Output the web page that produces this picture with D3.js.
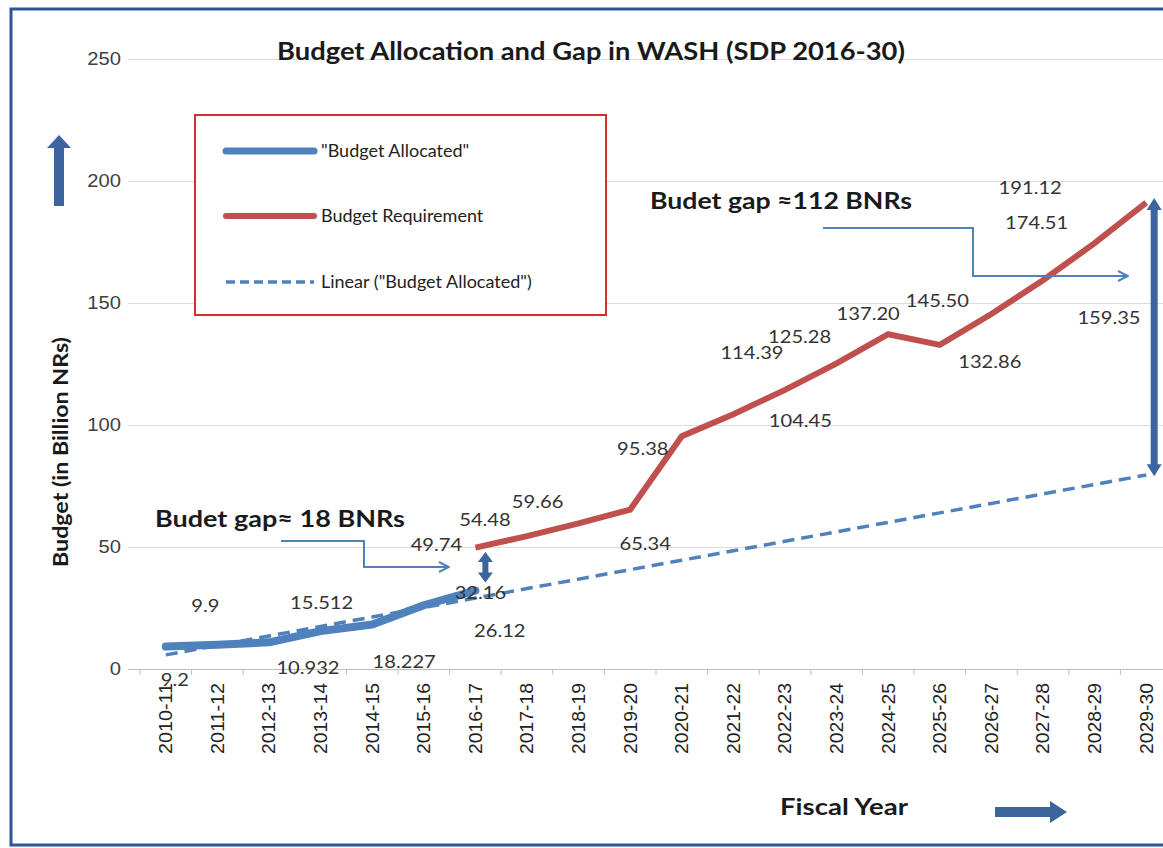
<!DOCTYPE html>
<html>
<head>
<meta charset="utf-8">
<script src="https://cdn.jsdelivr.net/npm/d3@7"></script>
<style>
  body { margin: 0; background: #fff; }
  svg { display: block; font-family: Lato, 'Open Sans', sans-serif; }
</style>
</head>
<body>
<div id="chart"></div>
<script>
// fiscal years on the x axis
const years = ['2010-11', '2011-12', '2012-13', '2013-14', '2014-15', '2015-16', '2016-17',
  '2017-18', '2018-19', '2019-20', '2020-21', '2021-22', '2022-23', '2023-24', '2024-25',
  '2025-26', '2026-27', '2027-28', '2028-29', '2029-30'];

// budget allocated, 2010-11 .. 2016-17 (billion NRs)
const allocated = [9.2, 9.9, 10.932, 15.512, 18.227, 26.12, 32.16];
const allocatedLabels = ['9.2', '9.9', '10.932', '15.512', '18.227', '26.12', '32.16'];

// budget requirement, 2016-17 .. 2029-30
const requirementStart = 6;
const requirement = [49.74, 54.48, 59.66, 65.34, 95.38, 104.45, 114.39, 125.28, 137.20,
  132.86, 145.50, 159.35, 174.51, 191.12];
const requirementLabels = ['49.74', '54.48', '59.66', '65.34', '95.38', '104.45', '114.39',
  '125.28', '137.20', '132.86', '145.50', '159.35', '174.51', '191.12'];

const yTicks = [0, 50, 100, 150, 200, 250];

// label nudges (px) so the numbers sit where Excel left them
const allocatedLabelOffsets = [[9, 34], [-12, -39], [39, 26], [1, -28], [32, 38], [76, 26], [5, 3]];
const requirementLabelOffsets = [[-39, -2], [-42, -16], [-41, -21], [15, 35], [-39, 13], [67, 7],
  [-33, -37], [-37, -26], [-20, -20], [50, 17], [-54, -13], [66, 38], [-58, -20], [-116, -14]];

const width = 1163;
const height = 848;
const blue = '#4f81bd';
const red = '#c0504d';
const darkBlue = '#3c65a0';
const textColor = '#404040';

// the source picture is a bit wide, so text is stretched sideways to match
function stretch(sel, k) {
  sel.each(function() {
    const len = this.getComputedTextLength();
    d3.select(this)
      .attr('textLength', len * k)
      .attr('lengthAdjust', 'spacingAndGlyphs');
  });
}

const svg = d3.select('#chart')
  .append('svg')
  .attr('width', width)
  .attr('height', height);

svg.append('defs').append('marker')
  .attr('id', 'open-head')
  .attr('viewBox', '0 0 12 12')
  .attr('refX', 11)
  .attr('refY', 6)
  .attr('markerWidth', 12)
  .attr('markerHeight', 12)
  .attr('markerUnits', 'userSpaceOnUse')
  .attr('orient', 'auto')
  .append('path')
  .attr('d', 'M1,1 L11,6 L1,11')
  .attr('fill', 'none')
  .attr('stroke', blue)
  .attr('stroke-width', 2);

// outer frame
svg.append('rect')
  .attr('x', 11)
  .attr('y', 9)
  .attr('width', 1200)
  .attr('height', 836)
  .attr('fill', '#fff')
  .attr('stroke', '#2f5597')
  .attr('stroke-width', 3);

const x = d3.scaleBand()
  .domain(years)
  .range([140, 1172])
  .padding(0);
const xc = d => x(d) + x.bandwidth() / 2;

const y = d3.scaleLinear()
  .domain([0, 250])
  .range([669, 59]);

// gridlines + y labels
const yAxis = svg.append('g')
  .attr('class', 'y-axis')
  .attr('transform', 'translate(128,0)')
  .call(d3.axisLeft(y).tickValues(yTicks).tickSize(-(width - 128)).tickPadding(7));
yAxis.select('.domain').remove();
yAxis.selectAll('.tick line')
  .attr('stroke', d => d === 0 ? '#bfbfbf' : '#dcdcdc')
  .attr('stroke-width', 1.2);
yAxis.selectAll('.tick text')
  .attr('fill', textColor)
  .attr('font-size', 18)
  .call(stretch, 1.12);

// x axis
const xAxis = svg.append('g')
  .attr('class', 'x-axis')
  .attr('transform', `translate(0,${y(0)})`)
  .call(d3.axisBottom(x).tickSize(0).tickPadding(0));
xAxis.select('.domain').remove();
xAxis.selectAll('.tick text')
  .attr('transform', 'rotate(-90)')
  .attr('text-anchor', 'end')
  .attr('x', -14)
  .attr('y', 0)
  .attr('dy', '0.35em')
  .attr('fill', '#222')
  .attr('font-size', 18)
  .attr('textLength', 71)
  .attr('lengthAdjust', 'spacingAndGlyphs');
xAxis.selectAll('.boundary')
  .data(d3.range(years.length + 1))
  .enter()
  .append('line')
  .attr('x1', i => x.range()[0] + i * x.step())
  .attr('x2', i => x.range()[0] + i * x.step())
  .attr('y1', 0)
  .attr('y2', 6)
  .attr('stroke', '#bfbfbf');

// linear trendline of the allocated series (least squares, like Excel)
const idx = allocated.map((d, i) => i);
const mx = d3.mean(idx);
const my = d3.mean(allocated);
const slope = d3.sum(idx, i => (i - mx) * (allocated[i] - my)) / d3.sum(idx, i => (i - mx) ** 2);
const intercept = my - slope * mx;
const trend = years.map((yr, i) => ({ yr, v: intercept + slope * i }));

const line = d3.line()
  .x(d => xc(d.yr))
  .y(d => y(d.v));

const allocatedData = allocated.map((v, i) => ({ yr: years[i], v }));
const requirementData = requirement.map((v, i) => ({ yr: years[requirementStart + i], v }));

svg.append('path')
  .datum(allocatedData)
  .attr('d', line)
  .attr('fill', 'none')
  .attr('stroke', blue)
  .attr('stroke-width', 8)
  .attr('stroke-linejoin', 'round')
  .attr('stroke-linecap', 'round');

svg.append('path')
  .datum(trend)
  .attr('d', line)
  .attr('fill', 'none')
  .attr('stroke', blue)
  .attr('stroke-width', 3.5)
  .attr('stroke-dasharray', '12,7');

svg.append('path')
  .datum(requirementData)
  .attr('d', line)
  .attr('fill', 'none')
  .attr('stroke', red)
  .attr('stroke-width', 6)
  .attr('stroke-linejoin', 'miter');

// data labels
const labelGroup = svg.append('g').attr('class', 'labels')
  .attr('font-size', 16.5)
  .attr('fill', '#333')
  .attr('text-anchor', 'middle');

labelGroup.selectAll('.lab-a')
  .data(allocatedData)
  .enter()
  .append('text')
  .attr('x', (d, i) => xc(d.yr) + allocatedLabelOffsets[i][0])
  .attr('y', (d, i) => y(d.v) + allocatedLabelOffsets[i][1])
  .attr('dy', '0.35em')
  .text((d, i) => allocatedLabels[i]);

labelGroup.selectAll('.lab-r')
  .data(requirementData)
  .enter()
  .append('text')
  .attr('x', (d, i) => xc(d.yr) + requirementLabelOffsets[i][0])
  .attr('y', (d, i) => y(d.v) + requirementLabelOffsets[i][1])
  .attr('dy', '0.35em')
  .text((d, i) => requirementLabels[i]);

labelGroup.selectAll('text').call(stretch, 1.22);

// title
svg.append('text')
  .attr('x', 591)
  .attr('y', 60)
  .attr('text-anchor', 'middle')
  .attr('font-size', 24)
  .attr('font-weight', 'bold')
  .attr('fill', '#1a1a1a')
  .attr('textLength', 628)
  .attr('lengthAdjust', 'spacingAndGlyphs')
  .text('Budget Allocation and Gap in WASH (SDP 2016-30)');

// axis titles
svg.append('text')
  .attr('transform', 'translate(68,452) rotate(-90)')
  .attr('text-anchor', 'middle')
  .attr('font-size', 20)
  .attr('font-weight', 'bold')
  .attr('fill', '#1a1a1a')
  .attr('textLength', 230)
  .attr('lengthAdjust', 'spacingAndGlyphs')
  .text('Budget (in Billion NRs)');

svg.append('text')
  .attr('x', 844)
  .attr('y', 815)
  .attr('text-anchor', 'middle')
  .attr('font-size', 23)
  .attr('font-weight', 'bold')
  .attr('fill', '#1a1a1a')
  .attr('textLength', 128)
  .attr('lengthAdjust', 'spacingAndGlyphs')
  .text('Fiscal Year');

// block arrows next to the axis titles
svg.append('path')
  .attr('d', 'M54,206 L54,148 L47,148 L59,135 L71,148 L64,148 L64,206 Z')
  .attr('fill', darkBlue);
svg.append('path')
  .attr('d', 'M995,807 L1050,807 L1050,801 L1067,812 L1050,823 L1050,817 L995,817 Z')
  .attr('fill', darkBlue);

// legend
const legend = svg.append('g').attr('class', 'legend');
legend.append('rect')
  .attr('x', 195)
  .attr('y', 115)
  .attr('width', 411)
  .attr('height', 200)
  .attr('fill', '#fff')
  .attr('stroke', '#d32f2f')
  .attr('stroke-width', 2);
const legendItems = [
  { label: '"Budget Allocated"', color: blue, w: 7, dash: null, y: 151 },
  { label: 'Budget Requirement', color: red, w: 6, dash: null, y: 216 },
  { label: 'Linear ("Budget Allocated")', color: blue, w: 3.5, dash: '9,5', y: 282 }
];
legendItems.forEach(d => {
  legend.append('line')
    .attr('x1', 226).attr('x2', 314)
    .attr('y1', d.y).attr('y2', d.y)
    .attr('stroke', d.color)
    .attr('stroke-width', d.w)
    .attr('stroke-linecap', d.dash ? 'butt' : 'round')
    .attr('stroke-dasharray', d.dash);
  legend.append('text')
    .attr('x', 321)
    .attr('y', d.y)
    .attr('dy', '0.35em')
    .attr('font-size', 18)
    .attr('fill', '#222')
    .text(d.label);
});

// gap annotations
const note = svg.append('g').attr('class', 'notes');
note.append('text')
  .attr('x', 155)
  .attr('y', 527)
  .attr('font-size', 22)
  .attr('font-weight', 'bold')
  .attr('fill', '#1a1a1a')
  .attr('textLength', 250)
  .attr('lengthAdjust', 'spacingAndGlyphs')
  .text('Budet gap\u2248 18 BNRs');
note.append('path')
  .attr('d', 'M281,541 H364 V567 H449')
  .attr('fill', 'none')
  .attr('stroke', blue)
  .attr('stroke-width', 2)
  .attr('marker-end', 'url(#open-head)');

note.append('text')
  .attr('x', 650)
  .attr('y', 209)
  .attr('font-size', 22)
  .attr('font-weight', 'bold')
  .attr('fill', '#1a1a1a')
  .attr('textLength', 262)
  .attr('lengthAdjust', 'spacingAndGlyphs')
  .text('Budet gap \u2248112 BNRs');
note.append('path')
  .attr('d', 'M823,228 H973 V276 H1128')
  .attr('fill', 'none')
  .attr('stroke', blue)
  .attr('stroke-width', 2)
  .attr('marker-end', 'url(#open-head)');

// thick double arrows marking the gaps
function doubleArrow(cx, y1, y2, shaft, head, headLen) {
  const s = shaft / 2;
  const h = head / 2;
  return `M${cx},${y1} L${cx + h},${y1 + headLen} L${cx + s},${y1 + headLen} ` +
    `L${cx + s},${y2 - headLen} L${cx + h},${y2 - headLen} L${cx},${y2} ` +
    `L${cx - h},${y2 - headLen} L${cx - s},${y2 - headLen} L${cx - s},${y1 + headLen} ` +
    `L${cx - h},${y1 + headLen} Z`;
}
note.append('path')
  .attr('d', doubleArrow(xc('2016-17') + 10, y(48), y(35.5), 6, 15, 10))
  .attr('fill', darkBlue);
note.append('path')
  .attr('d', doubleArrow(xc('2029-30') + 8, y(193), y(79), 7, 15, 12))
  .attr('fill', darkBlue);
</script>
</body>
</html>
